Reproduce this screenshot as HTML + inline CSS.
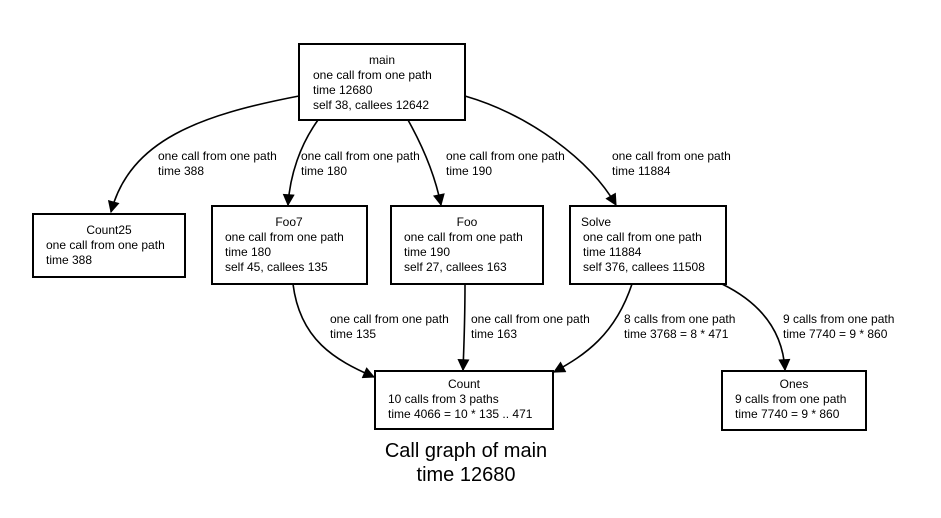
<!DOCTYPE html>
<html><head><style>
html,body{margin:0;padding:0;background:#fff;}
svg{display:block;font-family:"Liberation Sans",sans-serif;}
text{font-size:12px;fill:#000;}
</style></head><body>
<svg width="941" height="518" viewBox="0 0 941 518" xmlns="http://www.w3.org/2000/svg">
<defs><marker id="a" viewBox="0 0 10 10" refX="9" refY="5" markerWidth="13" markerHeight="12" markerUnits="userSpaceOnUse" orient="auto"><path d="M0,0 L10,5 L0,10 z" fill="#000"/></marker></defs>
<g fill="none" stroke="#000" stroke-width="2">
<rect x="299" y="44" width="166" height="76"/>
<rect x="33" y="214" width="152" height="63"/>
<rect x="212" y="206" width="155" height="78"/>
<rect x="391" y="206" width="152" height="78"/>
<rect x="570" y="206" width="156" height="78"/>
<rect x="375" y="371" width="178" height="58"/>
<rect x="722" y="371" width="144" height="59"/>
<g stroke-width="1.6">
<path d="M299,96 C200,115 130,140 111,212" marker-end="url(#a)"/>
<path d="M318,120 C300,145 290,175 288,205" marker-end="url(#a)"/>
<path d="M408,120 C422,145 435,175 441,205" marker-end="url(#a)"/>
<path d="M465,96 C530,115 590,160 616,205" marker-end="url(#a)"/>
<path d="M293,284 C300,340 335,360 374,377" marker-end="url(#a)"/>
<path d="M465,284 C465,320 464,345 463,370" marker-end="url(#a)"/>
<path d="M632,284 C615,335 585,355 554,372" marker-end="url(#a)"/>
<path d="M722,284 C765,305 783,335 785,370" marker-end="url(#a)"/>
</g></g>
<text x="382" y="64" text-anchor="middle">main</text>
<text x="313" y="79">one call from one path</text>
<text x="313" y="94">time 12680</text>
<text x="313" y="109">self 38, callees 12642</text>
<text x="109" y="234" text-anchor="middle">Count25</text>
<text x="46" y="249">one call from one path</text>
<text x="46" y="264">time 388</text>
<text x="289" y="226" text-anchor="middle">Foo7</text>
<text x="225" y="241">one call from one path</text>
<text x="225" y="256">time 180</text>
<text x="225" y="271">self 45, callees 135</text>
<text x="467" y="226" text-anchor="middle">Foo</text>
<text x="404" y="241">one call from one path</text>
<text x="404" y="256">time 190</text>
<text x="404" y="271">self 27, callees 163</text>
<text x="596" y="226" text-anchor="middle">Solve</text>
<text x="583" y="241">one call from one path</text>
<text x="583" y="256">time 11884</text>
<text x="583" y="271">self 376, callees 11508</text>
<text x="464" y="388" text-anchor="middle">Count</text>
<text x="388" y="403">10 calls from 3 paths</text>
<text x="388" y="418">time 4066 = 10 * 135 .. 471</text>
<text x="794" y="388" text-anchor="middle">Ones</text>
<text x="735" y="403">9 calls from one path</text>
<text x="735" y="418">time 7740 = 9 * 860</text>
<text x="158" y="160">one call from one path</text>
<text x="158" y="175">time 388</text>
<text x="301" y="160">one call from one path</text>
<text x="301" y="175">time 180</text>
<text x="446" y="160">one call from one path</text>
<text x="446" y="175">time 190</text>
<text x="612" y="160">one call from one path</text>
<text x="612" y="175">time 11884</text>
<text x="330" y="323">one call from one path</text>
<text x="330" y="338">time 135</text>
<text x="471" y="323">one call from one path</text>
<text x="471" y="338">time 163</text>
<text x="624" y="323">8 calls from one path</text>
<text x="624" y="338">time 3768 = 8 * 471</text>
<text x="783" y="323">9 calls from one path</text>
<text x="783" y="338">time 7740 = 9 * 860</text>
<text x="466" y="457" text-anchor="middle" style="font-size:20px">Call graph of main</text>
<text x="466" y="481" text-anchor="middle" style="font-size:20px">time 12680</text>
</svg>
</body></html>
